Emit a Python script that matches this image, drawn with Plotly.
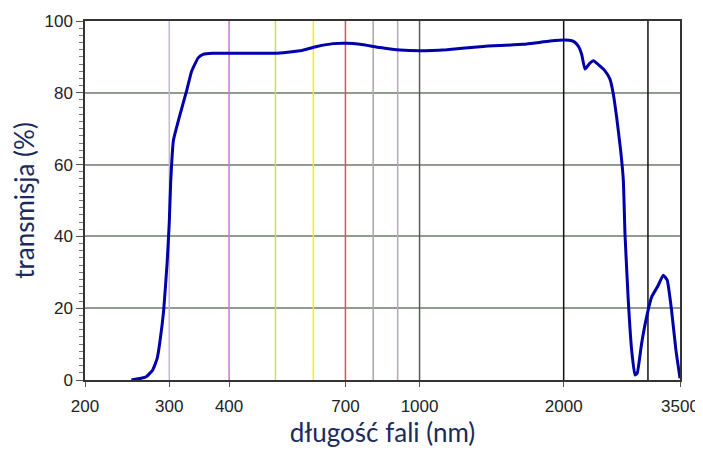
import plotly.graph_objects as go

# Transmission curve (wavelength nm, transmission %)
wavelength = [250, 262, 269, 277, 283, 287, 292, 297, 300, 302, 306, 316, 326, 334, 345, 353,
              370, 400, 450, 500, 530, 562, 610, 660, 704, 751, 827, 910, 1000, 1139, 1358,
              1647, 1873, 2012, 2080, 2113, 2150, 2181, 2216, 2260, 2306, 2380, 2440, 2499,
              2540, 2581, 2631, 2665, 2686, 2729, 2774, 2818, 2849, 2910, 2981, 3053, 3153,
              3229, 3291, 3361, 3432, 3500]
transmission = [0, 0.5, 1, 2.8, 6, 11, 19.4, 33, 44, 55, 66.7, 74, 80.5, 86, 89.8, 90.7,
                91, 91, 91, 91, 91.3, 91.7, 92.9, 93.7, 93.8, 93.5, 92.6, 91.9, 91.7, 92, 92.9,
                93.5, 94.4, 94.7, 94.5, 94, 92.8, 90.7, 86.6, 88, 88.9, 87.5, 86.1, 83.8,
                79.6, 73.1, 63.9, 55.6, 40.8, 22.2, 8.3, 1.4, 1.9, 10.2, 17.6, 23.1, 26.4,
                29.2, 27.8, 19.4, 8.3, 0.5]

# Reference vertical lines
marker_wl = [300, 400, 500, 600, 700, 800, 900, 1000, 2000, 3000]
marker_colors = ["#c4b8cc", "#c77ac7", "#cde04a", "#f5f000", "#f04a4a",
                 "#a8a8a8", "#b8a8b8", "#5a5a5a", "#111111", "#111111"]

x_ticks = [200, 300, 400, 700, 1000, 2000, 3500]
y_ticks = [0, 20, 40, 60, 80, 100]

fig = go.Figure()

for w, c in zip(marker_wl, marker_colors):
    fig.add_trace(go.Scatter(x=[w, w], y=[0, 100], mode="lines",
                             line=dict(color=c, width=1.5), hoverinfo="skip",
                             showlegend=False))

fig.add_trace(go.Scatter(x=wavelength, y=transmission, mode="lines",
                         line=dict(color="#0000a8", width=3, shape="spline", smoothing=0.4),
                         showlegend=False))

tick_font = dict(family="Liberation Sans, Arial, sans-serif", size=17, color="#222222")
title_font = dict(family="Lato, Open Sans, sans-serif", size=26, color="#1b2a5c")

# page body has an 8px default margin, so the figure is sized to fit the window
fig.update_layout(
    width=695, height=442,
    margin=dict(l=77, r=23, t=13, b=70),
    paper_bgcolor="white", plot_bgcolor="white",
    xaxis=dict(type="log", range=[2.30103, 3.544068], automargin=False,
               tickvals=x_ticks, ticktext=[str(v) for v in x_ticks],
               showgrid=False, zeroline=False,
               showline=True, linecolor="#333333", linewidth=1.5, mirror=True,
               ticks="outside", ticklen=5, tickcolor="#555555",
               ticklabelstandoff=5,
               tickfont=tick_font,
               title=dict(text="długość fali (nm)", font=title_font, standoff=2)),
    yaxis=dict(range=[0, 100], tickvals=y_ticks, automargin=False,
               showgrid=True, gridcolor="#8f9c8f", gridwidth=2,
               zeroline=False,
               showline=True, linecolor="#333333", linewidth=1.5, mirror=True,
               ticks="outside", ticklen=7, tickcolor="#555555",
               minor=dict(dtick=2, ticks="outside", ticklen=4, tickcolor="#777777",
                          showgrid=False),
               tickfont=tick_font,
               title=dict(text="transmisja (%)", font=title_font, standoff=6)),
)

fig.write_html("out.html")
